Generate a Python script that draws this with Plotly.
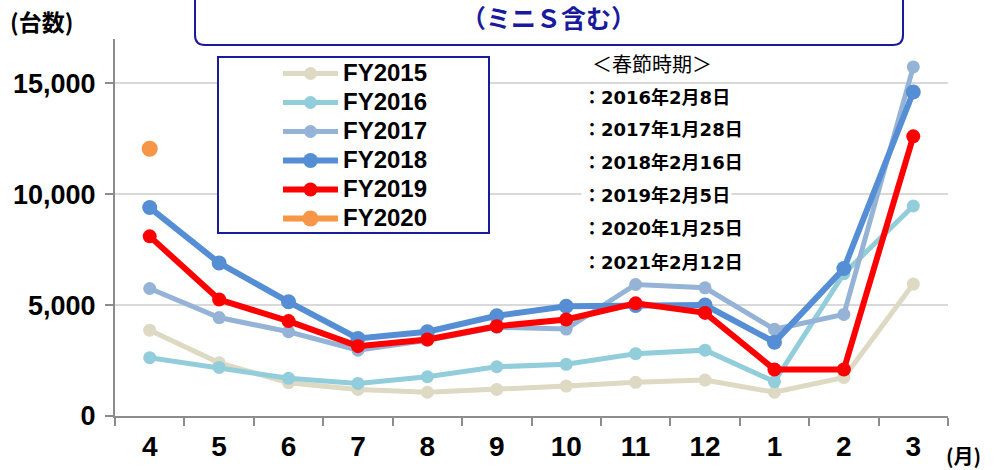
import plotly.graph_objects as go

# Monthly unit counts by fiscal year (April -> March)
months = ["4", "5", "6", "7", "8", "9", "10", "11", "12", "1", "2", "3"]

fy2015 = [3870, 2400, 1500, 1200, 1070, 1200, 1350, 1520, 1620, 1070, 1740, 5950]
fy2016 = [2630, 2190, 1700, 1470, 1770, 2220, 2330, 2810, 2970, 1550, 6420, 9470]
fy2017 = [5750, 4440, 3800, 2970, 3420, 4000, 3920, 5930, 5780, 3910, 4580, 15740]
fy2018 = [9400, 6900, 5150, 3500, 3800, 4520, 4950, 4980, 5000, 3330, 6650, 14610]
fy2019 = [8100, 5250, 4280, 3150, 3450, 4050, 4350, 5080, 4650, 2100, 2100, 12610]
fy2020 = [12050, None, None, None, None, None, None, None, None, None, None, None]

series_names = ["FY2015", "FY2016", "FY2017", "FY2018", "FY2019", "FY2020"]
series_values = [fy2015, fy2016, fy2017, fy2018, fy2019, fy2020]
series_colors = ["#DDD9C3", "#92CDDC", "#95B3D7", "#558ED5", "#FF0000", "#F79646"]
line_widths = [5, 5, 5, 6, 6, 6]
marker_sizes = [13, 13, 13, 15, 14, 16]

spring_festival_title = "＜春節時期＞"
spring_festival_dates = [
    "：2016年2月8日",
    "：2017年1月28日",
    "：2018年2月16日",
    "：2019年2月5日",
    "：2020年1月25日",
    "：2021年2月12日",
]

W, H = 994, 470
PLOT_L, PLOT_R, PLOT_T, PLOT_B = 115, 948, 39, 416
NAVY = "#1A1A9E"
LATIN = "Liberation Sans, Arial, sans-serif"
CJK = "Noto Sans CJK JP, sans-serif"


def px(x):
    return (x - PLOT_L) / (PLOT_R - PLOT_L)


def py(y):
    return (PLOT_B - y) / (PLOT_B - PLOT_T)


fig = go.Figure()
for name, vals, color, lw, ms in zip(series_names, series_values, series_colors,
                                     line_widths, marker_sizes):
    fig.add_trace(go.Scatter(
        x=months, y=vals,
        name=f'<span style="font-size:24px">{name}</span>',
        mode="lines+markers",
        line=dict(color=color, width=lw),
        marker=dict(color=color, size=ms),
        connectgaps=False,
    ))

shapes = []
# header box with rounded lower corners
r = 10
x0, x1, y0, y1 = 195, 903, -12, 45
shapes.append(dict(
    type="path", xref="paper", yref="paper",
    path=(f"M {px(x0)},{py(y0)} L {px(x0)},{py(y1 - r)} "
          f"Q {px(x0)},{py(y1)} {px(x0 + r)},{py(y1)} "
          f"L {px(x1 - r)},{py(y1)} "
          f"Q {px(x1)},{py(y1)} {px(x1)},{py(y1 - r)} "
          f"L {px(x1)},{py(y0)}"),
    line=dict(color=NAVY, width=2), fillcolor="white", layer="above",
))
# legend frame
shapes.append(dict(
    type="rect", xref="paper", yref="paper",
    x0=px(218), x1=px(489), y0=py(233), y1=py(57),
    line=dict(color=NAVY, width=2), fillcolor="white", layer="above",
))

annotations = [
    dict(text="（ミニＳ含む）", x=px(548), y=py(17), xref="paper", yref="paper",
         xanchor="center", yanchor="middle", showarrow=False,
         font=dict(family=CJK, size=25, color=NAVY, weight="bold")),
    dict(text="(台数)", x=px(8), y=py(21), xref="paper", yref="paper",
         xanchor="left", yanchor="middle", showarrow=False,
         font=dict(family=CJK, size=23, color="black", weight="bold")),
    dict(text="(月)", x=px(944), y=py(455), xref="paper", yref="paper",
         xanchor="left", yanchor="middle", showarrow=False,
         font=dict(family=CJK, size=20, color="black", weight="bold")),
    dict(text=spring_festival_title, x=px(590), y=py(64), xref="paper", yref="paper",
         xanchor="left", yanchor="middle", showarrow=False,
         font=dict(family=CJK, size=20, color="black")),
]
date_rows_y = [97, 129, 162, 195, 228, 262]
for txt, yy in zip(spring_festival_dates, date_rows_y):
    annotations.append(dict(
        text=txt, x=px(581), y=py(yy), xref="paper", yref="paper",
        xanchor="left", yanchor="middle", showarrow=False, bgcolor="white",
        font=dict(family="DejaVu Sans, " + CJK, size=18, color="black", weight="bold"),
    ))

fig.update_layout(
    width=W, height=H, autosize=False,
    margin=dict(l=PLOT_L, r=W - PLOT_R, t=PLOT_T, b=H - PLOT_B, pad=0),
    paper_bgcolor="white", plot_bgcolor="white",
    showlegend=True,
    legend=dict(
        x=px(278), y=py(54), xanchor="left", yanchor="top",
        bgcolor="rgba(0,0,0,0)", borderwidth=0, itemwidth=55,
        font=dict(family=LATIN, size=20, color="black", weight="bold"),
        traceorder="normal",
    ),
    shapes=shapes,
    annotations=annotations,
    xaxis=dict(
        type="category", categoryorder="array", categoryarray=months,
        range=[-0.5, len(months) - 0.5], autorange=False, automargin=False,
        showline=True, linecolor="#8C8C8C", linewidth=2,
        ticks="outside", tickson="boundaries", ticklen=8, tickwidth=2,
        tickcolor="#8C8C8C", showgrid=False, zeroline=False,
        tickfont=dict(family=LATIN, size=28, color="black", weight="bold"),
        ticklabelstandoff=4,
    ),
    yaxis=dict(
        range=[0, 17000], autorange=False, automargin=False,
        tickvals=[0, 5000, 10000, 15000], tickformat=",d",
        showline=True, linecolor="#8C8C8C", linewidth=2,
        ticks="outside", ticklen=8, tickwidth=2, tickcolor="#8C8C8C",
        showgrid=True, gridcolor="#D9D9D9", gridwidth=2, zeroline=False,
        tickfont=dict(family=LATIN, size=27, color="black", weight="bold"),
        ticklabelstandoff=4,
    ),
)

fig.write_html("out.html")
